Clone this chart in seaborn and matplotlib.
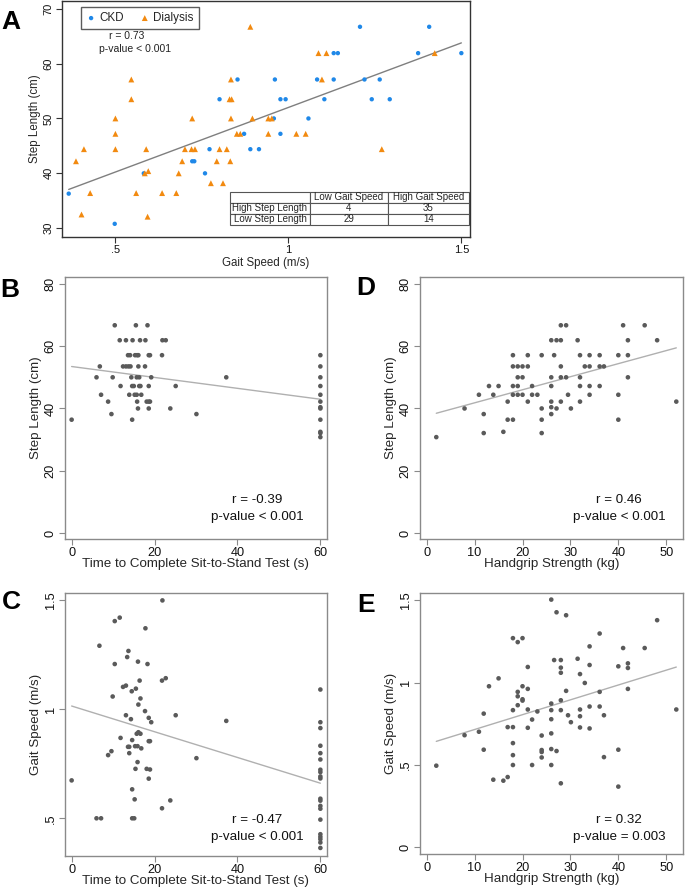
import numpy as np
import pandas as pd
import matplotlib
matplotlib.use("Agg")
import matplotlib.pyplot as plt
import seaborn as sns

sns.set_style("white")
plt.rcParams['font.family'] = ['Liberation Sans', 'DejaVu Sans']

# ---------------- data ----------------
ckd_speed = [0.365, 0.498, 0.582, 0.722, 0.728, 0.759, 0.772, 0.801, 0.853, 0.872, 0.890, 0.915,
             0.958, 0.961, 0.977, 0.977, 0.992, 1.058, 1.083, 1.104, 1.131, 1.143, 1.131, 1.207,
             1.220, 1.241, 1.264, 1.293, 1.375, 1.407, 1.500]
ckd_step = [36.3, 30.8, 40.0, 42.2, 42.2, 40.0, 44.4, 53.5, 57.1, 47.2, 44.4, 44.4,
            50.0, 57.1, 53.5, 47.2, 53.5, 50.0, 57.1, 53.5, 61.9, 61.9, 57.1, 66.7,
            57.1, 53.5, 57.1, 53.5, 61.9, 66.7, 61.9]
dial_speed = [0.386, 0.402, 0.409, 0.427, 0.500, 0.500, 0.500, 0.546, 0.546, 0.560, 0.585, 0.589,
              0.593, 0.595, 0.635, 0.676, 0.683, 0.693, 0.701, 0.722, 0.720, 0.730, 0.776, 0.793,
              0.801, 0.811, 0.822, 0.830, 0.836, 0.832, 0.834, 0.834, 0.851, 0.861, 0.890, 0.896,
              0.942, 0.942, 0.952, 1.023, 1.050, 1.087, 1.097, 1.110, 1.270, 1.423]
dial_step = [42.2, 32.5, 44.4, 36.4, 50.0, 47.2, 44.4, 57.1, 53.5, 36.4, 40.0, 44.4,
             32.1, 40.4, 36.4, 36.4, 40.0, 42.2, 44.4, 50.0, 44.4, 44.4, 38.2, 42.2,
             44.4, 38.2, 44.4, 53.5, 53.5, 42.2, 57.1, 50.0, 47.2, 47.2, 66.7, 50.0,
             47.2, 50.0, 50.0, 47.2, 47.2, 61.9, 57.1, 61.9, 44.4, 61.9]

table_rows = ["High Step Length", "Low Step Length"]
table_cols = ["Low Gait Speed", "High Gait Speed"]
table_vals = [["4", "35"], ["29", "14"]]

sts_B = [0, 6.0, 6.8, 7.1, 8.8, 9.6, 9.9, 10.4, 11.6, 11.8, 12.4, 13.1, 13.1, 13.6, 13.7, 13.9,
         14.1, 14.2, 14.4, 14.6, 14.7, 14.6, 15.0, 15.2, 15.3, 15.5, 15.7, 15.7, 15.8, 15.8, 16.0,
         16.1, 16.1, 16.3, 16.3, 16.5, 16.6, 16.8, 17.7, 17.8, 18.1, 18.3, 18.6, 18.6, 18.6, 18.6,
         18.9, 18.9, 19.2, 21.8, 21.9, 22.7, 23.8, 25.1, 30.1, 37.3,
         60, 60, 60, 60, 60, 60, 60, 60, 60, 60, 60, 60]
step_B = [36.4, 50.0, 53.5, 44.4, 42.2, 38.2, 50.0, 66.7, 61.9, 47.2, 53.5, 61.9, 53.5, 57.1, 53.5,
          44.4, 57.1, 53.5, 50.0, 36.4, 61.9, 47.2, 47.2, 44.4, 57.1, 66.7, 50.0, 44.4, 57.1, 42.2,
          40.0, 53.5, 57.1, 50.0, 47.2, 61.9, 47.2, 44.4, 53.5, 61.9, 42.2, 66.7, 42.2, 57.1, 47.2,
          40.0, 57.1, 42.2, 50.0, 57.1, 61.9, 61.9, 40.0, 47.2, 38.2, 50.0,
          57.1, 53.5, 50.0, 47.2, 44.4, 42.2, 40.4, 40.0, 36.4, 32.5, 32.1, 30.8]

sts_C = [0, 6.0, 7.1, 6.7, 8.8, 9.6, 9.9, 10.4, 10.4, 11.6, 11.8, 12.4, 13.1, 13.1, 13.4, 13.6,
         13.7, 13.9, 13.9, 14.3, 14.5, 14.6, 14.6, 14.6, 15.1, 15.2, 15.3, 15.4, 15.5, 15.7, 15.9,
         15.9, 16.0, 16.1, 16.1, 16.4, 16.6, 16.6, 16.8, 17.7, 17.8, 18.1, 18.3, 18.6, 18.6, 18.6,
         18.9, 18.9, 19.2, 21.8, 21.8, 21.9, 22.7, 23.8, 25.1, 30.1, 37.3,
         60, 60, 60, 60, 60, 60, 60, 60, 60, 60, 60, 60, 60, 60, 60, 60, 60, 60, 60, 60]
speed_C = [0.674, 0.500, 0.500, 1.292, 0.790, 0.808, 1.059, 1.405, 1.208, 1.421, 0.869, 1.103,
           1.109, 0.973, 1.240, 0.828, 1.268, 0.828, 0.799, 0.955, 1.083, 0.859, 0.633, 0.500,
           0.500, 0.587, 0.831, 0.727, 1.095, 0.888, 0.831, 0.758, 1.219, 1.022, 0.895, 1.132,
           1.050, 0.888, 0.821, 0.992, 1.372, 0.727, 1.208, 0.961, 0.854, 0.682, 0.724, 0.854,
           0.941, 1.132, 0.546, 1.500, 1.143, 0.582, 0.973, 0.776, 0.947,
           1.091, 0.941, 0.914, 0.833, 0.799, 0.770, 0.723, 0.712, 0.692, 0.683, 0.590, 0.581,
           0.557, 0.544, 0.494, 0.427, 0.415, 0.404, 0.389, 0.364]

grip_D = [2.0, 7.9, 10.9, 11.9, 11.9, 13.0, 13.9, 15.0, 16.0, 16.9, 16.9, 18.0, 18.0, 18.0, 18.0,
          18.0, 19.0, 19.0, 19.0, 19.0, 20.0, 20.0, 20.0, 21.1, 21.1, 21.1, 22.0, 22.0, 23.1, 24.0,
          24.0, 24.0, 24.0, 26.0, 26.0, 26.0, 26.0, 26.0, 26.0, 26.6, 27.1, 27.1, 28.0, 28.0, 28.0,
          28.0, 28.0, 29.1, 29.1, 29.5, 30.1, 31.5, 32.0, 32.0, 32.0, 32.0, 33.0, 34.0, 34.0, 34.0,
          34.0, 36.1, 36.1, 36.1, 37.0, 40.0, 40.0, 40.0, 41.0, 42.0, 42.0, 42.0, 45.5, 48.1, 52.1]
step_D = [30.8, 40.0, 44.4, 38.2, 32.1, 47.2, 44.4, 47.2, 32.5, 42.2, 36.4, 36.4, 57.1, 53.5, 47.2,
          44.4, 53.5, 50.0, 47.2, 44.4, 53.5, 50.0, 44.4, 57.1, 53.5, 42.2, 47.2, 44.4, 44.4, 57.1,
          40.0, 36.4, 32.1, 61.9, 50.0, 47.2, 42.2, 40.4, 38.2, 57.1, 61.9, 40.0, 66.7, 61.9, 53.5,
          50.0, 42.2, 66.7, 50.0, 44.4, 40.0, 61.9, 57.1, 50.0, 47.2, 42.2, 53.5, 57.1, 53.5, 47.2,
          44.4, 57.1, 53.5, 47.2, 53.5, 57.1, 44.4, 36.4, 66.7, 61.9, 57.1, 50.0, 66.7, 61.9, 42.2]

grip_E = [2.0, 7.9, 10.9, 11.9, 11.9, 13.0, 13.9, 15.0, 16.0, 16.9, 16.9, 18.0, 18.0, 18.0, 18.0,
          18.0, 18.0, 19.0, 19.0, 19.0, 19.0, 20.0, 20.0, 20.0, 20.0, 21.1, 21.1, 21.1, 21.1, 22.0,
          22.0, 23.1, 24.0, 24.0, 24.0, 24.0, 26.0, 26.0, 26.0, 26.0, 26.0, 26.0, 26.0, 26.6, 27.1,
          27.1, 28.0, 28.0, 28.0, 28.0, 28.0, 28.0, 29.1, 29.1, 29.5, 30.1, 31.5, 32.0, 32.0, 32.0,
          32.0, 33.0, 34.0, 34.0, 34.0, 34.0, 36.1, 36.1, 36.1, 37.0, 37.0, 40.0, 40.0, 40.0, 41.0,
          42.0, 42.0, 42.0, 45.5, 48.1, 52.1]
speed_E = [0.496, 0.681, 0.702, 0.812, 0.593, 0.978, 0.411, 1.026, 0.405, 0.427, 0.730, 1.270,
           0.833, 0.730, 0.633, 0.560, 0.500, 1.246, 0.944, 0.917, 0.863, 1.270, 0.978, 0.899,
           0.891, 1.095, 0.962, 0.837, 0.726, 0.776, 0.500, 0.825, 0.679, 0.591, 0.579, 0.546,
           1.504, 0.873, 0.833, 0.778, 0.692, 0.597, 0.500, 1.137, 1.427, 0.585, 1.137, 1.091,
           1.060, 0.893, 0.833, 0.389, 1.409, 0.950, 0.802, 0.760, 1.145, 1.052, 0.837, 0.796,
           0.728, 0.998, 1.220, 1.107, 0.855, 0.722, 1.298, 0.944, 0.855, 0.802, 0.548, 1.099,
           0.593, 0.369, 1.210, 1.117, 1.089, 0.962, 1.210, 1.379, 0.837]

# ---------------- figure ----------------
W, H = 685, 889
fig = plt.figure(figsize=(W / 100, H / 100), dpi=100)


def ax_px(l, t, r, b):
    return fig.add_axes([l / W, 1 - b / H, (r - l) / W, (b - t) / H])


def style_axes(ax, spine_color, fs):
    for s in ax.spines.values():
        s.set_visible(True)
        s.set_color(spine_color)
        s.set_linewidth(1.0)
    ax.tick_params(axis='both', which='major', direction='out', length=4, width=0.8,
                   color=spine_color, labelsize=fs, labelcolor='#111111', pad=2,
                   bottom=True, left=True)
    for lab in ax.get_yticklabels():
        lab.set_rotation(90)
        lab.set_va('center')
        lab.set_ha('right')


DOT = '#5a5a5a'
LINE_LIGHT = '#b0b0b0'
FRAME = '#8a8a8a'

# ---- Panel A ----
axA = ax_px(62, 1, 470, 237)
dfA = pd.DataFrame({
    'speed': ckd_speed + dial_speed,
    'step': ckd_step + dial_step,
    'group': ['CKD'] * len(ckd_speed) + ['Dialysis'] * len(dial_speed),
})
sns.regplot(data=dfA, x='speed', y='step', scatter=False, ci=None, ax=axA,
            line_kws=dict(color='#7f7f7f', lw=1.0))
sns.scatterplot(x=ckd_speed, y=ckd_step, ax=axA, marker='o', s=10, color='#1f88e8',
                edgecolor='none', label='CKD', zorder=3)
sns.scatterplot(x=dial_speed, y=dial_step, ax=axA, marker='^', s=18, color='#f28a10',
                edgecolor='none', label='Dialysis', zorder=3)
axA.set_xlim(0.3456, 1.525)
axA.set_ylim(28.4, 71.4)
axA.set_xticks([0.5, 1.0, 1.5])
axA.set_xticklabels(['.5', '1', '1.5'])
axA.set_yticks([30, 40, 50, 60, 70])
axA.set_yticklabels(['30', '40', '50', '60', '70'])
axA.set_xlabel('Gait Speed (m/s)', fontsize=8.3, labelpad=1)
axA.set_ylabel('Step Length (cm)', fontsize=8.3, labelpad=2)
style_axes(axA, '#333333', 8)
leg = axA.legend(loc='upper left', bbox_to_anchor=(0.047, 0.975), ncol=2, fontsize=8.4,
                 frameon=True, fancybox=False, borderaxespad=0, handletextpad=0.3,
                 handlelength=0.8, columnspacing=1.4, markerscale=1.0, borderpad=0.45)
leg.get_frame().set_edgecolor('#333333')
leg.get_frame().set_linewidth(1.0)
axA.text((127 - 62) / 408, (237 - 36) / 236, 'r = 0.73', transform=axA.transAxes,
         ha='center', va='center', fontsize=7.5, color='#222222')
axA.text((135 - 62) / 408, (237 - 49) / 236, 'p-value < 0.001', transform=axA.transAxes,
         ha='center', va='center', fontsize=7.5, color='#222222')

cell_text = [[''] + table_cols] + [[table_rows[i]] + table_vals[i] for i in range(2)]
tbl = axA.table(cellText=cell_text, cellLoc='center',
                bbox=[(230 - 62) / 408, (237 - 225) / 236, (469 - 230) / 408, (225 - 191.7) / 236],
                colWidths=[80, 78, 81])
tbl.auto_set_font_size(False)
tbl.set_fontsize(7.0)
for (r, c), cell in tbl.get_celld().items():
    cell.set_edgecolor('#555555')
    cell.set_linewidth(0.8)
    cell.set_facecolor('white')
    cell.PAD = 0.01


def small_panel(l, t, r, b, x, y, xlim, ylim, xticks, xtl, yticks, ytl, xlabel, ylabel,
                txt1, txt2, tx, ty):
    ax = ax_px(l, t, r, b)
    sns.regplot(x=np.array(x), y=np.array(y), scatter=False, ci=None, ax=ax,
                line_kws=dict(color=LINE_LIGHT, lw=1.0))
    sns.scatterplot(x=x, y=y, ax=ax, s=11, color=DOT, edgecolor='none', zorder=3)
    ax.set_xlim(*xlim)
    ax.set_ylim(*ylim)
    ax.set_xticks(xticks)
    ax.set_xticklabels(xtl)
    ax.set_yticks(yticks)
    ax.set_yticklabels(ytl)
    ax.set_xlabel(xlabel, fontsize=9.6, labelpad=-1)
    ax.set_ylabel(ylabel, fontsize=9.6, labelpad=2)
    style_axes(ax, FRAME, 9.2)
    ax.text((tx - l) / (r - l), (b - ty) / (b - t), txt1, transform=ax.transAxes,
            ha='center', va='center', fontsize=9.6, color='#111111')
    ax.text((tx - l) / (r - l), (b - ty - 17) / (b - t), txt2, transform=ax.transAxes,
            ha='center', va='center', fontsize=9.6, color='#111111')
    return ax


sts_label = 'Time to Complete Sit-to-Stand Test (s)'
grip_label = 'Handgrip Strength (kg)'

# ---- Panel B ----
small_panel(65, 277, 327, 539, sts_B, step_B, (-1.6, 61.6), (-1.9, 82.2),
            [0, 20, 40, 60], ['0', '20', '40', '60'],
            [0, 20, 40, 60, 80], ['0', '20', '40', '60', '80'],
            sts_label, 'Step Length (cm)', 'r = -0.39', 'p-value < 0.001', 257, 500)
# ---- Panel D ----
small_panel(420, 277, 683, 539, grip_D, step_D, (-1.4, 53.5), (-1.9, 82.2),
            [0, 10, 20, 30, 40, 50], ['0', '10', '20', '30', '40', '50'],
            [0, 20, 40, 60, 80], ['0', '20', '40', '60', '80'],
            grip_label, 'Step Length (cm)', 'r = 0.46', 'p-value < 0.001', 619, 500)
# ---- Panel C ----
small_panel(65, 593, 327, 856, sts_C, speed_C, (-1.6, 61.6), (0.327, 1.534),
            [0, 20, 40, 60], ['0', '20', '40', '60'],
            [0.5, 1.0, 1.5], ['.5', '1', '1.5'],
            sts_label, 'Gait Speed (m/s)', 'r = -0.47', 'p-value < 0.001', 257, 820)
# ---- Panel E ----
small_panel(420, 593, 683, 854, grip_E, speed_E, (-1.4, 53.5), (-0.04, 1.544),
            [0, 10, 20, 30, 40, 50], ['0', '10', '20', '30', '40', '50'],
            [0, 0.5, 1.0, 1.5], ['0', '.5', '1', '1.5'],
            grip_label, 'Gait Speed (m/s)', 'r = 0.32', 'p-value = 0.003', 619, 820)

# panel letters
for letter, (px, py) in {'A': (11, 22), 'B': (10, 290), 'C': (11, 602),
                         'D': (366, 288), 'E': (366, 605)}.items():
    fig.text(px / W, 1 - py / H, letter, ha='center', va='center', fontsize=19,
             fontweight='bold', color='black')

fig.savefig('out.png', dpi=100)
